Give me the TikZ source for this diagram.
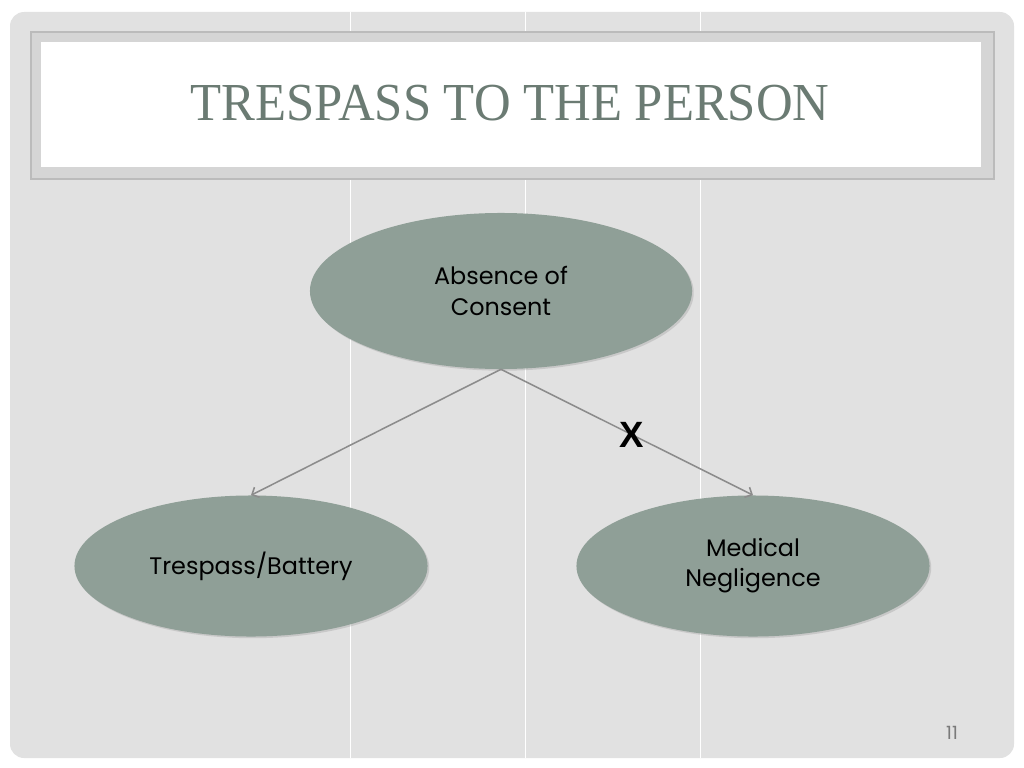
\documentclass[tikz,border=0pt]{standalone}
\usepackage{fontspec}
\setmainfont{Liberation Serif}
\newfontfamily\gothicfont{Poppins}
\newfontfamily\arialfont{Liberation Sans}
\usetikzlibrary{shapes.geometric,arrows.meta,shadows}

\definecolor{slidegray}{HTML}{E1E1E1}
\definecolor{framegray}{HTML}{D5D5D5}
\definecolor{frameline}{HTML}{BBBBBB}
\definecolor{sagegreen}{HTML}{8F9F97}
\definecolor{titlegreen}{HTML}{6B7B73}
\definecolor{arrowgray}{HTML}{8C8C8C}
\definecolor{numgray}{HTML}{7A7A7A}

\begin{document}
\begin{tikzpicture}[%
      x=0.025cm, y=-0.025cm,
      bubble/.style={ellipse, fill=sagegreen, inner sep=0pt, align=center,
        font=\gothicfont\fontsize{17}{21.5}\selectfont,
        drop shadow={shadow xshift=1.2pt, shadow yshift=-1.2pt, opacity=0.25}},
      link/.style={draw=arrowgray, line width=1.1pt, -{Straight Barb[length=4pt,width=8pt]}},
      ]
      \useasboundingbox (0,0) rectangle (1024,768);
      \fill [white] (0,0) rectangle (1024,768);
      \fill [slidegray, rounded corners=10pt] (10,12) rectangle (1014,758);
      \draw [white, line width=0.7pt] (350,12) -- (350,758);
      \draw [white, line width=0.7pt] (525,12) -- (525,758);
      \draw [white, line width=0.7pt] (700,12) -- (700,758);

      % title box
      \filldraw [fill=framegray, draw=frameline, line width=0.8pt] (31,32) rectangle (994,179);
      \fill [white] (41,42) rectangle (981,167);
      \node [anchor=base, inner sep=0pt, text=titlegreen, font=\fontsize{38}{42}\selectfont] (title) at (510,121) {\scalebox{0.95}[1]{TRESPASS TO THE PERSON}};

      \node [bubble, minimum width=9.55cm, minimum height=3.9cm] (consent) at (501,291) {Absence of\\Consent};
      \node [bubble, minimum width=8.825cm, minimum height=3.525cm] (battery) at (251,566) {Trespass/Battery};
      \node [bubble, minimum width=8.825cm, minimum height=3.525cm] (negligence) at (753,566) {Medical\\Negligence};

      \draw [link] (consent.south) -- (battery.north);
      \draw [link] (consent.south) -- node [pos=0.52, inner sep=0pt, font=\arialfont\bfseries\fontsize{26}{30}\selectfont] (cross) {X} (negligence.north);

      \node [text=numgray, font=\gothicfont\fontsize{13}{15}\selectfont] (pagenum) at (952,733) {11};
      \end{tikzpicture}
\end{document}
